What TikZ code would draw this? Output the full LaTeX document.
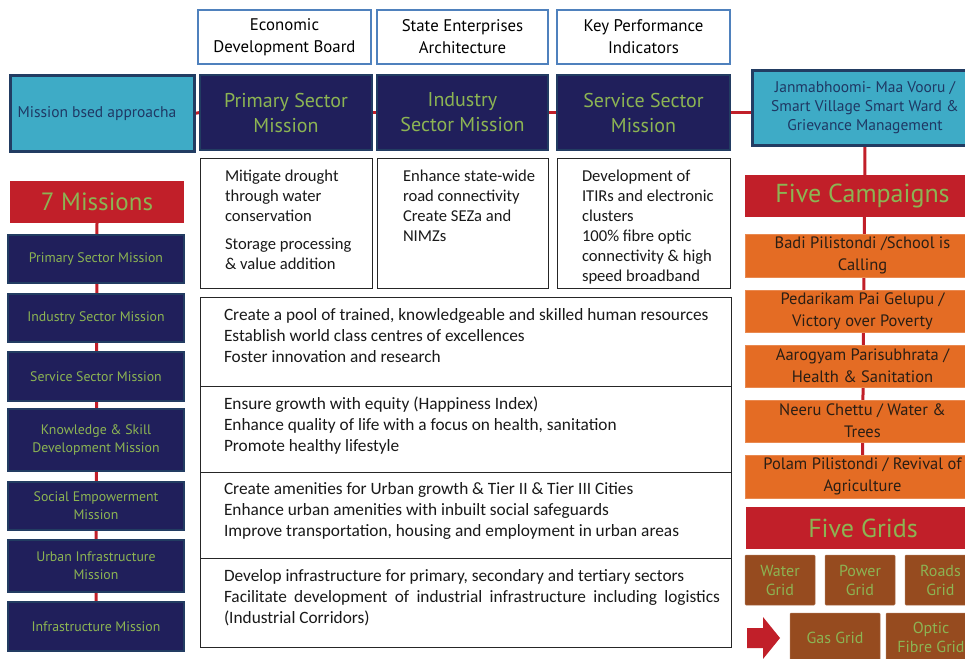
\documentclass[tikz,border=0pt]{standalone}
\usepackage{fontspec}
\setmainfont{Carlito}
\newfontfamily\myr{PT Sans}
\usetikzlibrary{backgrounds}
\definecolor{navy}{HTML}{201F5B}
\definecolor{navyline}{HTML}{223C62}
\definecolor{mgreen}{HTML}{8CB453}
\definecolor{teal}{HTML}{3EABC6}
\definecolor{tealtxt}{HTML}{1F3864}
\definecolor{mred}{HTML}{C11F29}
\definecolor{morange}{HTML}{E46C24}
\definecolor{mbrown}{HTML}{964B1F}
\definecolor{mblue}{HTML}{4F81BD}
\definecolor{dtxt}{HTML}{2A1E14}
\newcommand\mybox[7]{\node[#2, anchor=north west, minimum width={(#5-#3)*1pt}, minimum height={(#6-#4)*1pt}] (#1) at (#3,#4) {#7};}
\begin{document}
\begin{tikzpicture}[x=1pt,y=-1pt,
  every node/.style={inner sep=0pt, outer sep=0pt},
  topbox/.style={draw=mblue, line width=2.5pt, fill=white, align=center, text=black, font={\myr\fontsize{16.8}{22}\selectfont}},
  secbox/.style={draw=navyline, line width=1.5pt, fill=navy, align=center, text=mgreen, font={\myr\fontsize{20}{25}\selectfont}},
  tealbox/.style={draw=navyline, line width=3pt, fill=teal, align=center, text=tealtxt, font={\myr\fontsize{15.5}{19}\selectfont}},
  plainbox/.style={draw=black!85, line width=1pt, fill=white},
  bodytxt/.style={align=left, text=black!90, font={\fontsize{16.6}{20}\selectfont}},
  bigtxt/.style={align=left, text=black!90, font={\fontsize{17.3}{21}\selectfont}},
  misbox/.style={draw=navyline, line width=1.5pt, fill=navy, align=center, text=mgreen, font={\myr\fontsize{13.8}{18}\selectfont}},
  redhead/.style={fill=mred, align=center, text=mgreen, font={\myr\fontsize{25}{30}\selectfont}},
  campbox/.style={fill=morange, draw=morange!80!white, line width=0.5pt, align=center, text=dtxt, font={\myr\fontsize{16.5}{22}\selectfont}},
  gridbox/.style={fill=mbrown, draw=mbrown!80!white, line width=0.5pt, rounded corners=1pt, align=center, text=mgreen, font={\myr\fontsize{16}{19}\selectfont}},
  redline/.style={draw=mred, line width=3pt}
]
\useasboundingbox (0,0) rectangle (965,658);

% top white boxes
\mybox{edb}{topbox}{198}{10}{371}{64}{Economic\\Development Board}
\mybox{sea}{topbox}{377}{10}{548}{64}{State Enterprises\\Architecture}
\mybox{kpi}{topbox}{557}{10}{730}{64}{Key Performance\\Indicators}

% second row
\mybox{msn}{tealbox}{10}{76}{194}{151}{Mission bsed approacha\hspace{10pt}}
\mybox{psm}{secbox}{200}{75}{372}{150}{Primary Sector\\Mission}
\mybox{ism}{secbox}{377}{75}{548}{150}{Industry\\Sector Mission}
\mybox{ssm}{secbox}{557}{75}{730}{150}{Service Sector\\Mission}
\mybox{jan}{tealbox}{752}{71}{978}{145}{Janmabhoomi- Maa Vooru /\\Smart Village Smart Ward \&\\Grievance Management}

% small text boxes
\mybox{b1}{plainbox}{200}{158}{372}{288}{}
\mybox{b2}{plainbox}{377}{158}{548}{288}{}
\mybox{b3}{plainbox}{557}{158}{730}{288}{}
\node[bodytxt, anchor=north west] (t1) at ([shift={(25pt,-9pt)}]b1.north west) {\strut Mitigate drought\\through water\\conservation\\[8pt]Storage processing\\\& value addition};
\node[bodytxt, anchor=north west] (t2) at ([shift={(26pt,-9pt)}]b2.north west) {\strut Enhance state-wide\\road connectivity\\Create SEZa and\\NIMZs};
\node[bodytxt, anchor=north west] (t3) at ([shift={(25pt,-9pt)}]b3.north west) {\strut Development of\\ITIRs and electronic\\clusters\\100\% fibre optic\\connectivity \& high\\speed broadband};

% big boxes
\mybox{c1}{plainbox}{200}{297}{731}{386}{}
\mybox{c2}{plainbox}{200}{386}{731}{472}{}
\mybox{c3}{plainbox}{200}{472}{731}{558}{}
\mybox{c4}{plainbox}{200}{558}{731}{647}{}
\node[bigtxt, anchor=north west] (u1) at ([shift={(24pt,-9pt)}]c1.north west) {\strut Create a pool of trained, knowledgeable and skilled human resources\\Establish world class centres of excellences\\Foster innovation and research};
\node[bigtxt, anchor=north west] (u2) at ([shift={(24pt,-9pt)}]c2.north west) {\strut Ensure growth with equity (Happiness Index)\\Enhance quality of life with a focus on health, sanitation\\Promote healthy lifestyle};
\node[bigtxt, anchor=north west] (u3) at ([shift={(24pt,-8pt)}]c3.north west) {\strut Create amenities for Urban growth \& Tier II \& Tier III Cities\\Enhance urban amenities with inbuilt social safeguards\\Improve transportation, housing and employment in urban areas};
\node[bigtxt, anchor=north west] (u4) at ([shift={(24pt,-9pt)}]c4.north west) {\strut Develop infrastructure for primary, secondary and tertiary sectors\\\hbox to 496pt{Facilitate\hfill development\hfill of\hfill industrial\hfill infrastructure\hfill including\hfill logistics}\\(Industrial Corridors)};

% left column
\mybox{sev}{redhead}{10}{181}{184}{223}{7 Missions}
\mybox{m1}{misbox}{8}{235}{184}{283}{Primary Sector Mission}
\mybox{m2}{misbox}{8}{294}{184}{342}{Industry Sector Mission}
\mybox{m3}{misbox}{8}{352}{184}{401}{Service Sector Mission}
\mybox{m4}{misbox}{8}{409}{184}{471}{Knowledge \& Skill\\Development Mission}
\mybox{m5}{misbox}{8}{482}{184}{530}{Social Empowerment\\Mission}
\mybox{m6}{misbox}{8}{540}{184}{592}{Urban Infrastructure\\Mission}
\mybox{m7}{misbox}{8}{602}{184}{651}{Infrastructure Mission}

% right column
\mybox{fc}{redhead}{745}{175}{980}{217}{\fontsize{26}{30}\selectfont Five Campaigns}
\mybox{k1}{campbox}{745}{234}{980}{277}{Badi Pilistondi /School is\\Calling}
\mybox{k2}{campbox}{745}{290}{980}{332}{Pedarikam Pai Gelupu /\\Victory over Poverty}
\mybox{k3}{campbox}{745}{345}{980}{387}{Aarogyam Parisubhrata /\\Health \& Sanitation}
\mybox{k4}{campbox}{745}{400}{980}{442}{Neeru Chettu / Water \&\\Trees}
\mybox{k5}{campbox}{745}{455}{980}{498}{Polam Pilistondi / Revival of\\Agriculture}
\mybox{fg}{redhead}{746}{507}{980}{549}{\fontsize{26}{30}\selectfont Five Grids}
\mybox{g1}{gridbox}{745}{555}{815}{605}{Water\\Grid}
\mybox{g2}{gridbox}{825}{555}{895}{605}{Power\\Grid}
\mybox{g3}{gridbox}{905}{555}{976}{605}{Roads\\Grid}
\mybox{g4}{gridbox}{790}{613}{880}{662}{Gas Grid}
\mybox{g5}{gridbox}{886}{613}{976}{662}{Optic\\Fibre Grid}

% arrow
\fill[mred] (747,628) -- (763,628) -- (763,617) -- (780,638) -- (763,659) -- (763,648) -- (747,648) -- cycle;

\begin{scope}[on background layer]
\draw[redline] (msn.east) -- (psm.west);
\draw[redline] (psm.east) -- (ism.west);
\draw[redline] (ism.east) -- (ssm.west);
\draw[redline] (ssm.east) -- (ssm.east -| jan.west);
\draw[redline] (jan.south) -- (k5.north);
\draw[redline] (sev.south) -- (m7.north);
\end{scope}
\end{tikzpicture}
\end{document}
